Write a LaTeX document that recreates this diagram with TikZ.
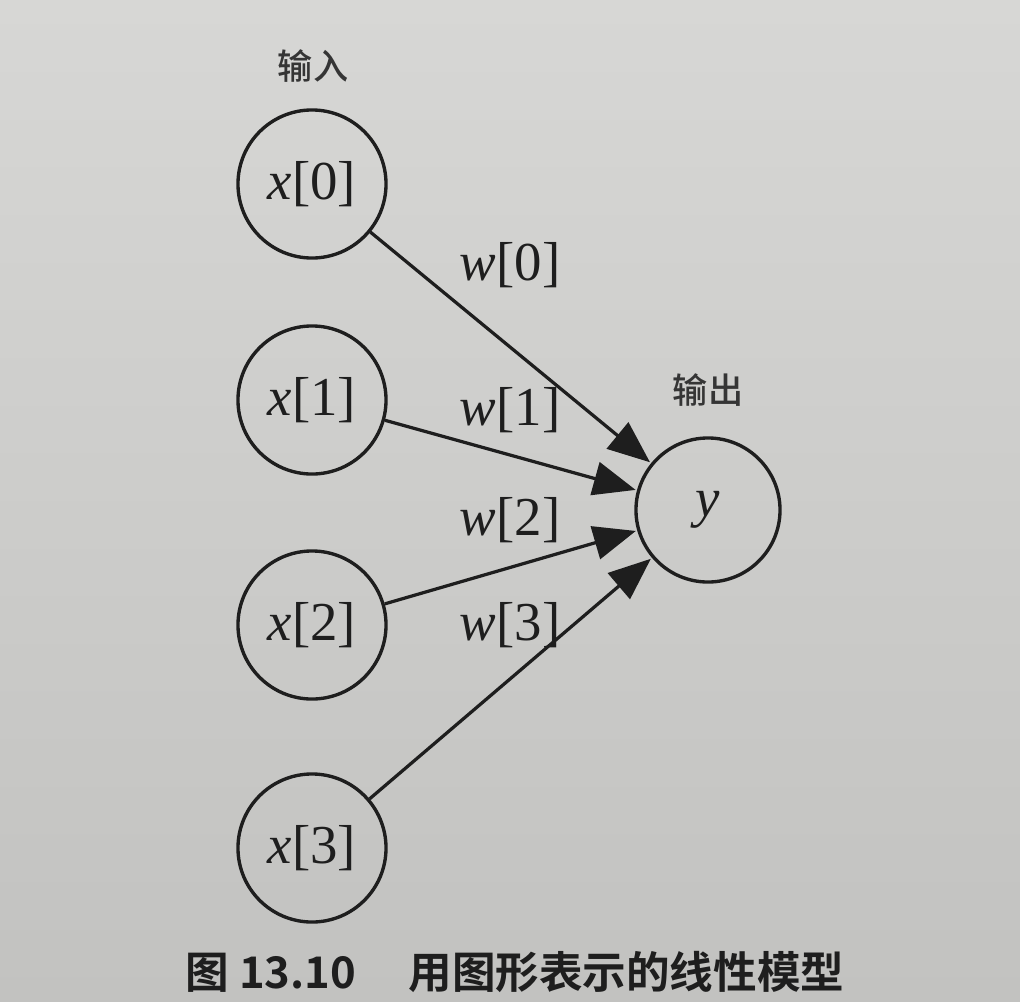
\documentclass[tikz,border=0pt]{standalone}
\usepackage{fontspec}
\setmainfont{Liberation Serif}
\newfontfamily\cjk{Noto Sans CJK SC Medium}
\newfontfamily\cjkb{Noto Sans CJK SC Bold}
\usetikzlibrary{arrows.meta}
\definecolor{paper}{HTML}{D7D7D5}
\definecolor{paperdark}{HTML}{C2C2C0}
\definecolor{ink}{HTML}{1E1E1E}
\begin{document}
\begin{tikzpicture}[x=0.025cm,y=-0.025cm,
  neuron/.style={circle,draw=ink,line width=2.4pt,inner sep=0pt,
     text=ink,font=\fontsize{39}{44}\selectfont},
  wlabel/.style={text=ink,font=\fontsize{39}{44}\selectfont,inner sep=0pt},
  cjklabel/.style={text=ink!90,font=\cjk\fontsize{25}{30}\selectfont,inner sep=0pt},
  conn/.style={draw=ink,line width=2.3pt,-{Triangle[length=30pt,width=24pt]},shorten >=1pt}]
\useasboundingbox (0,0) rectangle (1020,1001);
\shade[top color=paper,bottom color=paperdark] (0,0) rectangle (1020,1001);
\node[neuron,minimum size=148*0.7114pt] (x0) at (312,184) {\textit{x}[0]};
\node[neuron,minimum size=148*0.7114pt] (x1) at (312,400) {\textit{x}[1]};
\node[neuron,minimum size=148*0.7114pt] (x2) at (312,625) {\textit{x}[2]};
\node[neuron,minimum size=148*0.7114pt] (x3) at (312,848) {\textit{x}[3]};
\node[neuron,minimum size=144*0.7114pt] (y) at (708,510) {\textit{y}};
\node[cjklabel] (lin) at (313,66) {输入};
\node[cjklabel] (lout) at (708,390) {输出};
\draw[conn] (x0) -- (y);
\draw[conn] (x1) -- (y);
\draw[conn] (x2) -- (y);
\draw[conn] (x3) -- (y);
\node[wlabel] (w0) at (510,265) {\textit{w}[0]};
\node[wlabel] (w1) at (510,410) {\textit{w}[1]};
\node[wlabel] (w2) at (510,520) {\textit{w}[2]};
\node[wlabel] (w3) at (510,625) {\textit{w}[3]};
\node[text=ink,font=\cjkb\fontsize{31}{34}\selectfont,inner sep=0pt] (cap) at (515,972) {图 13.10\hspace{1.2em}用图形表示的线性模型};
\end{tikzpicture}
\end{document}
